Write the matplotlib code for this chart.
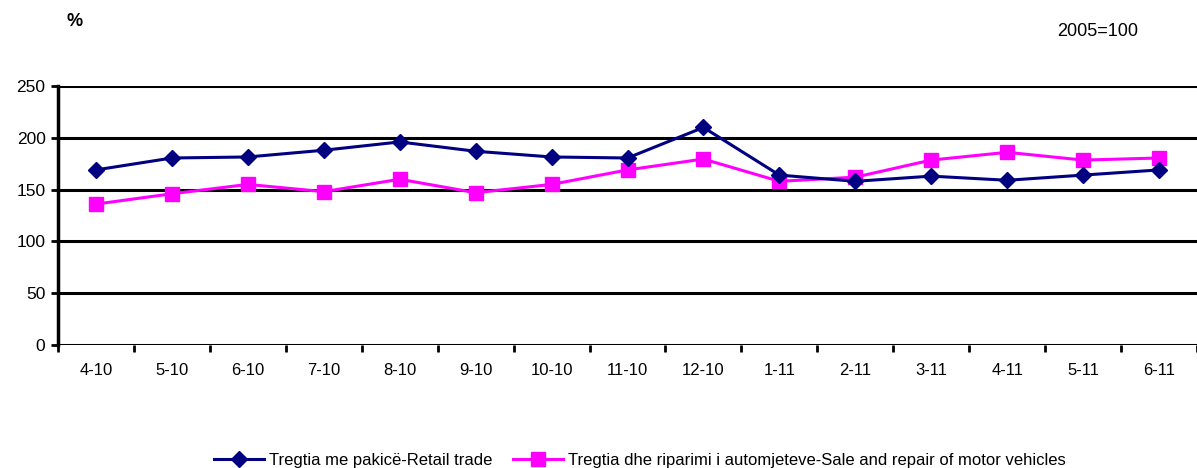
import matplotlib
matplotlib.use("Agg")
import matplotlib.pyplot as plt
import numpy as np

categories = ["4-10", "5-10", "6-10", "7-10", "8-10", "9-10", "10-10", "11-10",
              "12-10", "1-11", "2-11", "3-11", "4-11", "5-11", "6-11"]
retail = [169, 180.5, 181.5, 188, 196, 187, 181.5, 180.5, 210, 164, 158, 163, 159, 164, 169]
motor = [136, 146, 155, 148, 160, 147, 155, 169, 179.5, 158, 162, 178.5, 186, 178.5, 180.5]
yticks = [0, 50, 100, 150, 200, 250]

plt.rcParams['font.family'] = ['Liberation Sans', 'DejaVu Sans']

fig = plt.figure(figsize=(11.97, 4.68), dpi=100)
ax = fig.add_axes([58/1197, 1-345/468, 1-58/1197, (345-86)/468])

x = np.arange(len(categories))
ax.plot(x, retail, color='#000080', lw=2.2, marker='D', ms=8.5, mec='#000080',
        label='Tregtia me pakicë-Retail trade', zorder=4)
ax.plot(x, motor, color='#FF00FF', lw=2.2, marker='s', ms=9.5, mec='#FF00FF',
        label='Tregtia dhe riparimi i automjeteve-Sale and repair of motor vehicles', zorder=3)

ax.set_xlim(-0.5, len(categories) - 0.5)
ax.set_ylim(0, 250)
ax.set_yticks(yticks)
ax.set_xticks(x)
ax.set_xticklabels(categories)
ax.set_xticks(np.arange(-0.5, len(categories), 1), minor=True)
ax.tick_params(axis='x', which='major', length=0, labelsize=12, pad=13)
ax.tick_params(axis='x', which='minor', length=5, width=2, direction='out')
ax.tick_params(axis='y', length=5, width=2, labelsize=12.5, pad=4)

for v in yticks:
    ax.axhline(v, color='black', lw=2.2, zorder=1)
for s in ['top', 'right', 'bottom']:
    ax.spines[s].set_visible(False)
ax.spines['left'].set_linewidth(2.5)

fig.text(75/1197, 1-22/468, '%', fontsize=13, fontweight='bold', ha='center', va='center')
fig.text(1098/1197, 1-31/468, '2005=100', fontsize=13, ha='center', va='center')

fig.legend(loc='center', bbox_to_anchor=(640/1197, 1-460/468), ncol=2, frameon=False,
           fontsize=12, handlelength=3.0, columnspacing=1.2, handletextpad=0.3)

fig.savefig('out.png', dpi=100)
